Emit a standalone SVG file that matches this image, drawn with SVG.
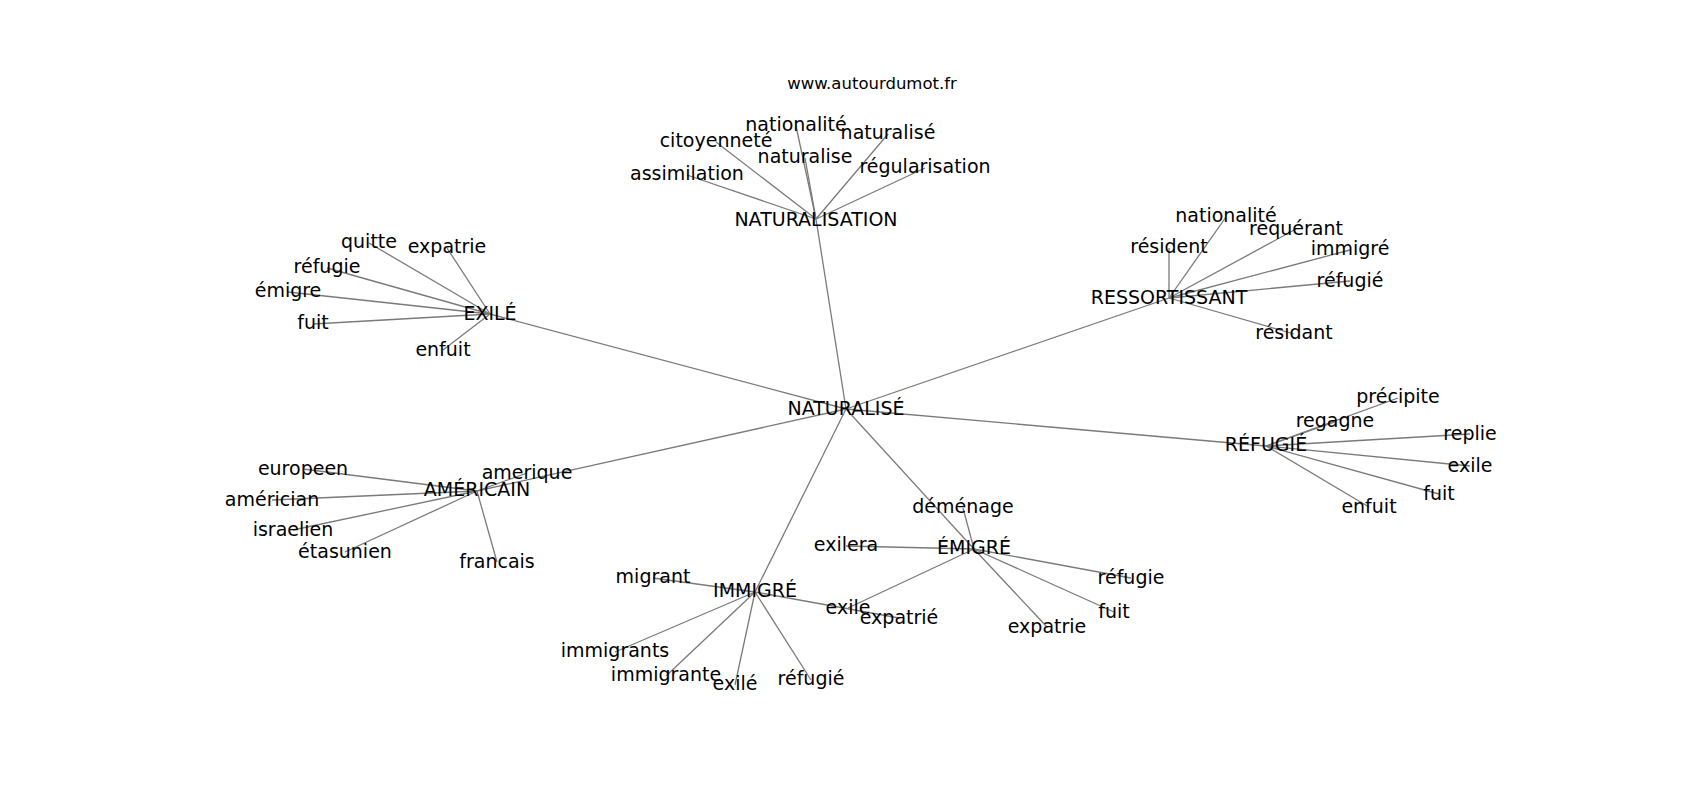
<svg xmlns="http://www.w3.org/2000/svg" width="1700" height="800" viewBox="0 0 1700 800">
<style>
text{font-family:"DejaVu Sans","Liberation Sans",sans-serif;fill:#000;text-anchor:middle}
.lbl{font-size:19px}
.ttl{font-size:16.5px}
#edges line{stroke:#7a7a7a;stroke-width:1.3}
</style>
<rect width="1700" height="800" fill="#fff"/>
<text class="ttl" x="872" y="89">www.autourdumot.fr</text>
<g id="edges">
<line x1="846" y1="409" x2="816" y2="219"/>
<line x1="846" y1="409" x2="490" y2="314"/>
<line x1="846" y1="409" x2="1169" y2="298"/>
<line x1="846" y1="409" x2="1266" y2="446"/>
<line x1="846" y1="409" x2="477" y2="491"/>
<line x1="846" y1="409" x2="755" y2="592"/>
<line x1="846" y1="409" x2="974" y2="549"/>
<line x1="816" y1="219" x2="796" y2="126"/>
<line x1="816" y1="219" x2="716" y2="142"/>
<line x1="816" y1="219" x2="805" y2="158"/>
<line x1="816" y1="219" x2="888" y2="134"/>
<line x1="816" y1="219" x2="925" y2="168"/>
<line x1="816" y1="219" x2="687" y2="175"/>
<line x1="490" y1="314" x2="369" y2="243"/>
<line x1="490" y1="314" x2="447" y2="248"/>
<line x1="490" y1="314" x2="327" y2="268"/>
<line x1="490" y1="314" x2="288" y2="292"/>
<line x1="490" y1="314" x2="313" y2="324"/>
<line x1="490" y1="314" x2="443" y2="350"/>
<line x1="1169" y1="298" x2="1226" y2="217"/>
<line x1="1169" y1="298" x2="1296" y2="229"/>
<line x1="1169" y1="298" x2="1169" y2="248"/>
<line x1="1169" y1="298" x2="1350" y2="250"/>
<line x1="1169" y1="298" x2="1350" y2="281"/>
<line x1="1169" y1="298" x2="1294" y2="334"/>
<line x1="1266" y1="446" x2="1398" y2="398"/>
<line x1="1266" y1="446" x2="1335" y2="422"/>
<line x1="1266" y1="446" x2="1470" y2="434"/>
<line x1="1266" y1="446" x2="1470" y2="466"/>
<line x1="1266" y1="446" x2="1439" y2="494"/>
<line x1="1266" y1="446" x2="1369" y2="507"/>
<line x1="477" y1="491" x2="527" y2="473"/>
<line x1="477" y1="491" x2="303" y2="469"/>
<line x1="477" y1="491" x2="272" y2="500"/>
<line x1="477" y1="491" x2="293" y2="530"/>
<line x1="477" y1="491" x2="345" y2="552"/>
<line x1="477" y1="491" x2="497" y2="562"/>
<line x1="755" y1="592" x2="653" y2="578"/>
<line x1="755" y1="592" x2="615" y2="652"/>
<line x1="755" y1="592" x2="666" y2="676"/>
<line x1="755" y1="592" x2="735" y2="685"/>
<line x1="755" y1="592" x2="811" y2="680"/>
<line x1="755" y1="592" x2="899" y2="618"/>
<line x1="974" y1="549" x2="963" y2="508"/>
<line x1="974" y1="549" x2="846" y2="546"/>
<line x1="974" y1="549" x2="848" y2="608"/>
<line x1="974" y1="549" x2="1131" y2="578"/>
<line x1="974" y1="549" x2="1114" y2="612"/>
<line x1="974" y1="549" x2="1047" y2="627"/>
</g>
<g id="n-naturalise-center"><text class="lbl" x="846" y="415">NATURALISÉ</text></g>
<g id="n-naturalisation"><text class="lbl" x="816" y="226">NATURALISATION</text></g>
<g id="n-nationalite1"><text class="lbl" x="796" y="131">nationalité</text></g>
<g id="n-citoyennete"><text class="lbl" x="716" y="147">citoyenneté</text></g>
<g id="n-naturalise"><text class="lbl" x="805" y="163">naturalise</text></g>
<g id="n-naturalise2"><text class="lbl" x="888" y="139">naturalisé</text></g>
<g id="n-regularisation"><text class="lbl" x="925" y="173">régularisation</text></g>
<g id="n-assimilation"><text class="lbl" x="687" y="180">assimilation</text></g>
<g id="n-exile-hub"><text class="lbl" x="490" y="320">EXILÉ</text></g>
<g id="n-quitte"><text class="lbl" x="369" y="248">quitte</text></g>
<g id="n-expatrie1"><text class="lbl" x="447" y="253">expatrie</text></g>
<g id="n-refugie1"><text class="lbl" x="327" y="273">réfugie</text></g>
<g id="n-emigre"><text class="lbl" x="288" y="297">émigre</text></g>
<g id="n-fuit1"><text class="lbl" x="313" y="329">fuit</text></g>
<g id="n-enfuit1"><text class="lbl" x="443" y="356">enfuit</text></g>
<g id="n-ressortissant"><text class="lbl" x="1169" y="304">RESSORTISSANT</text></g>
<g id="n-nationalite2"><text class="lbl" x="1226" y="222">nationalité</text></g>
<g id="n-requerant"><text class="lbl" x="1296" y="235">requérant</text></g>
<g id="n-resident"><text class="lbl" x="1169" y="253">résident</text></g>
<g id="n-immigre1"><text class="lbl" x="1350" y="255">immigré</text></g>
<g id="n-refugie2"><text class="lbl" x="1350" y="287">réfugié</text></g>
<g id="n-residant"><text class="lbl" x="1294" y="339">résidant</text></g>
<g id="n-refugie-hub"><text class="lbl" x="1266" y="451">RÉFUGIÉ</text></g>
<g id="n-precipite"><text class="lbl" x="1398" y="403">précipite</text></g>
<g id="n-regagne"><text class="lbl" x="1335" y="427">regagne</text></g>
<g id="n-replie"><text class="lbl" x="1470" y="440">replie</text></g>
<g id="n-exile2"><text class="lbl" x="1470" y="472">exile</text></g>
<g id="n-fuit2"><text class="lbl" x="1439" y="500">fuit</text></g>
<g id="n-enfuit2"><text class="lbl" x="1369" y="513">enfuit</text></g>
<g id="n-americain"><text class="lbl" x="477" y="496">AMÉRICAIN</text></g>
<g id="n-amerique"><text class="lbl" x="527" y="479">amerique</text></g>
<g id="n-europeen"><text class="lbl" x="303" y="475">europeen</text></g>
<g id="n-americian"><text class="lbl" x="272" y="506">américian</text></g>
<g id="n-israelien"><text class="lbl" x="293" y="536">israelien</text></g>
<g id="n-etasunien"><text class="lbl" x="345" y="558">étasunien</text></g>
<g id="n-francais"><text class="lbl" x="497" y="568">francais</text></g>
<g id="n-immigre-hub"><text class="lbl" x="755" y="597">IMMIGRÉ</text></g>
<g id="n-migrant"><text class="lbl" x="653" y="583">migrant</text></g>
<g id="n-immigrants"><text class="lbl" x="615" y="657">immigrants</text></g>
<g id="n-immigrante"><text class="lbl" x="666" y="681">immigrante</text></g>
<g id="n-exile3"><text class="lbl" x="735" y="690">exilé</text></g>
<g id="n-refugie3"><text class="lbl" x="811" y="685">réfugié</text></g>
<g id="n-expatrie2"><text class="lbl" x="899" y="624">expatrié</text></g>
<g id="n-emigre-hub"><text class="lbl" x="974" y="554">ÉMIGRÉ</text></g>
<g id="n-demenage"><text class="lbl" x="963" y="513">déménage</text></g>
<g id="n-exilera"><text class="lbl" x="846" y="551">exilera</text></g>
<g id="n-exile4"><text class="lbl" x="848" y="614">exile</text></g>
<g id="n-refugie4"><text class="lbl" x="1131" y="584">réfugie</text></g>
<g id="n-fuit3"><text class="lbl" x="1114" y="618">fuit</text></g>
<g id="n-expatrie3"><text class="lbl" x="1047" y="633">expatrie</text></g>
</svg>
